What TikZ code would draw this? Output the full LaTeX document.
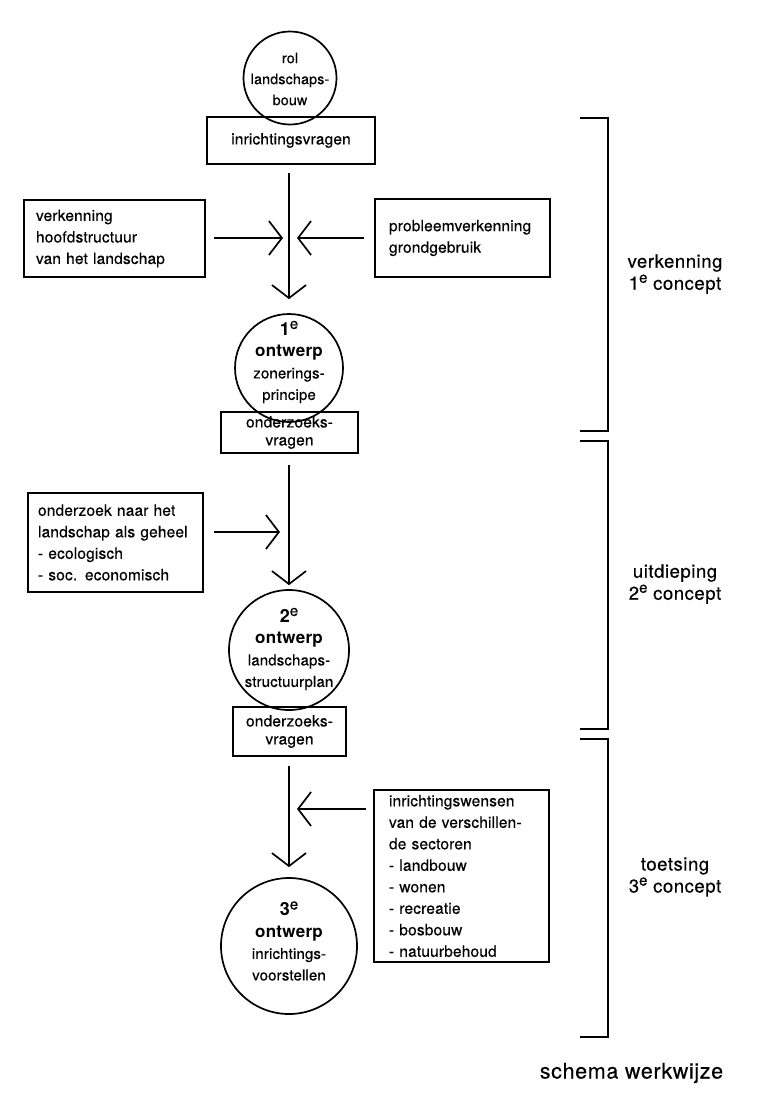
\documentclass[tikz,border=0pt]{standalone}
\usepackage{fontspec}
\setmainfont{TeX Gyre Heros}[LetterSpace=1, FakeBold=0.35]
\newfontfamily\boldface{TeX Gyre Heros}[LetterSpace=1.5]
\newfontfamily\sidefont{TeX Gyre Heros}[LetterSpace=3, FakeBold=0.35]
\usetikzlibrary{arrows.meta}
\newcommand\supE[2]{\raisebox{#2}{\fontsize{#1}{#1}\selectfont e}}
\begin{document}
\begin{tikzpicture}[x=1pt,y=-1pt,
  lw/.style={line width=1.7pt},
  bodyfont/.style={font=\fontsize{15.5}{21.5}\selectfont},
  circ/.style={lw, draw, circle, inner sep=0pt},
  ctxt/.style={font=\fontsize{15}{21.5}\selectfont, align=center, inner sep=0pt},
  cbox/.style={lw, draw, rectangle, inner sep=0pt, align=center, font=\fontsize{15.5}{18}\selectfont},
  lbox/.style={lw, draw, rectangle, inner ysep=0pt, align=left, bodyfont},
  arr/.style={lw, -{Straight Barb[length=13pt,width=34pt]}},
  brk/.style={lw},
  side/.style={font=\sidefont\fontsize{18.5}{22}\selectfont, align=center, inner sep=0pt}
]
\useasboundingbox (0,0) rectangle (777,1111);

% circles
\node[circ, minimum size=93pt] (c1) at (290,78) {};
\node[ctxt, font=\fontsize{14.3}{21}\selectfont] (c1t) at (290,79) {rol\\landschaps-\\bouw};

\node[circ, minimum size=108pt] (c2) at (289,368) {};
\node[ctxt] (c2t) at (289,362) {{\boldface\fontsize{18}{21.5}\selectfont\bfseries 1}\supE{15}{6.5pt}\\{\boldface\fontsize{17}{21.5}\selectfont\bfseries ontwerp}\\zonerings-\\principe};

\node[circ, minimum size=120pt] (c3) at (289,650) {};
\node[ctxt] (c3t) at (289,649) {{\boldface\fontsize{18}{21.5}\selectfont\bfseries 2}\supE{15}{6.5pt}\\{\boldface\fontsize{17}{21.5}\selectfont\bfseries ontwerp}\\landschaps-\\structuurplan};

\node[circ, minimum size=136pt] (c4) at (289,946) {};
\node[ctxt] (c4t) at (289,941) {{\boldface\fontsize{18}{21.5}\selectfont\bfseries 3}\supE{15}{6.5pt}\\{\boldface\fontsize{17}{21.5}\selectfont\bfseries ontwerp}\\inrichtings-\\voorstellen};

% centre boxes
\node[cbox, minimum width=168pt, minimum height=47pt] (A) at (291,140.5) {inrichtingsvragen};
\node[cbox, minimum width=137pt, minimum height=41pt] (D) at (289.5,432.5) {onderzoeks-\\vragen};
\node[cbox, minimum width=113pt, minimum height=49pt] (F) at (289.5,731.5) {onderzoeks-\\vragen};

% side boxes
\node[lbox, inner xsep=12pt, text width=157pt, minimum height=77pt] (B) at (114.5,238.5) {verkenning\\hoofdstructuur\\van het landschap};
\node[lbox, inner xsep=14pt, text width=147pt, minimum height=78pt] (C) at (462.5,238) {probleemverkenning\\grondgebruik};
\node[lbox, inner xsep=10pt, text width=155pt, minimum height=99pt] (E) at (115.5,542.5) {onderzoek naar het\\\mbox{landschap als geheel}\\- ecologisch\\- soc. economisch};
\node[lbox, inner xsep=15pt, text width=145pt, minimum height=172pt] (G) at (461.5,876) {inrichtingswensen\\van de verschillen-\\de sectoren\\- landbouw\\- wonen\\- recreatie\\- bosbouw\\- natuurbehoud};

% junctions on the main line
\coordinate (j1) at (289,238);
\coordinate (j2) at (289,532);
\coordinate (j3) at (289,809);

% vertical arrows
\draw[arr, shorten <=8pt, shorten >=14pt] (c2.north |- A.south) -- (c2.north);
\draw[arr, shorten <=11pt, shorten >=4pt] (c3.north |- D.south) -- (c3.north);
\draw[arr, shorten <=9pt, shorten >=10pt] (c4.north |- F.south) -- (c4.north);

% horizontal arrows
\draw[arr, shorten <=8pt, shorten >=6pt] (B.east |- j1) -- (j1);
\draw[arr, shorten <=10pt, shorten >=8pt] (C.west |- j1) -- (j1);
\draw[arr, shorten <=10pt, shorten >=9pt] (E.east |- j2) -- (j2);
\draw[arr, shorten <=7pt, shorten >=8pt] (G.west |- j3) -- (j3);

% brackets
\coordinate (b1a) at (580,118); \coordinate (b1b) at (608,118);
\coordinate (b1c) at (608,431); \coordinate (b1d) at (580,431);
\draw[brk] (b1a) -- (b1b) -- (b1c) -- (b1d);
\coordinate (b2a) at (580,441); \coordinate (b2b) at (608,441);
\coordinate (b2c) at (608,729); \coordinate (b2d) at (580,729);
\draw[brk] (b2a) -- (b2b) -- (b2c) -- (b2d);
\coordinate (b3a) at (580,739); \coordinate (b3b) at (608,739);
\coordinate (b3c) at (608,1037); \coordinate (b3d) at (580,1037);
\draw[brk] (b3a) -- (b3b) -- (b3c) -- (b3d);

% side labels
\node[side] (L1) at (675,274) {verkenning\\1\supE{15}{7pt} concept};
\node[side] (L2) at (675,584) {uitdieping\\2\supE{15}{7pt} concept};
\node[side] (L3) at (675,877) {toetsing\\3\supE{15}{7pt} concept};

\node[font=\sidefont\fontsize{21.5}{24}\selectfont, inner sep=0pt] (cap) at (631.5,1073) {schema werkwijze};
\end{tikzpicture}
\end{document}
